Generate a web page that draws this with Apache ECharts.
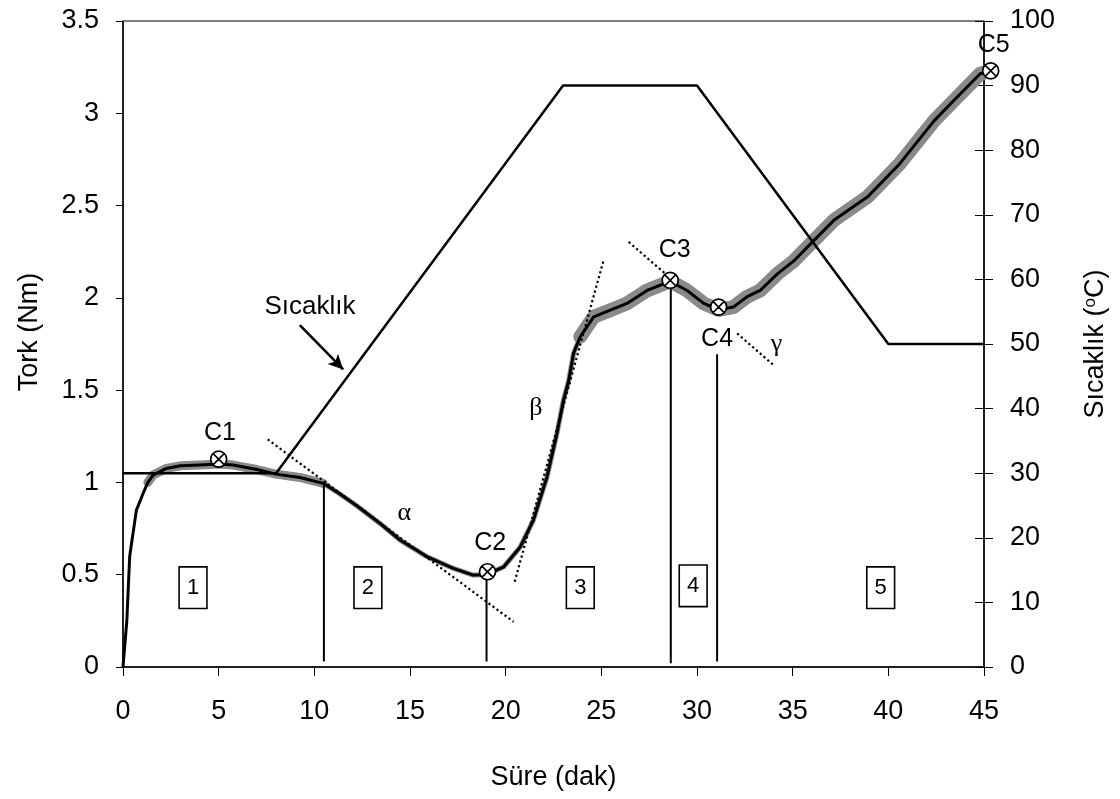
<!DOCTYPE html>
<html><head><meta charset="utf-8">
<script src="https://cdn.jsdelivr.net/npm/echarts@6/dist/echarts.min.js"></script>
<style>html,body{margin:0;padding:0;background:#fff}#c{width:1120px;height:799px}</style>
</head><body><div id="c"></div>
<script>
// ---------- data ----------
const xTicks = [0, 5, 10, 15, 20, 25, 30, 35, 40, 45];
const torqueTicks = [0, 0.5, 1, 1.5, 2, 2.5, 3, 3.5];
const tempTicks = [0, 10, 20, 30, 40, 50, 60, 70, 80, 90, 100];

const torqueTime = [0, 0.2, 0.35, 0.7, 1.05, 1.3, 1.57, 2.27, 3, 4, 5, 5.75, 7, 8, 9.25, 10.47, 11.3, 12.2, 13.43, 14.48, 15.9, 17.27, 18.3, 19, 19.9, 20.76, 21.45, 22.16, 22.68, 23.02, 23.29, 23.55, 23.9, 24.6, 25.47, 26.34, 27.39, 28.6, 29.48, 30.35, 31.13, 31.9, 32.6, 33.3, 34.2, 35.06, 36.1, 37.15, 38.9, 40.6, 42.4, 43.6, 44.8, 45.3];
const torqueValue = [0, 0.25, 0.6, 0.85, 0.94, 1.0, 1.04, 1.076, 1.09, 1.094, 1.1, 1.094, 1.07, 1.045, 1.027, 0.995, 0.94, 0.875, 0.778, 0.688, 0.597, 0.534, 0.498, 0.5, 0.543, 0.65, 0.796, 1.03, 1.265, 1.445, 1.55, 1.70, 1.79, 1.897, 1.933, 1.97, 2.04, 2.09, 2.04, 1.97, 1.935, 1.95, 2.005, 2.04, 2.13, 2.20, 2.31, 2.42, 2.546, 2.727, 2.96, 3.088, 3.214, 3.23];

const tempTime = [0, 8, 23, 30, 40, 45];
const tempValue = [30, 30, 90, 90, 50, 50];

const pointNames = ['C1', 'C2', 'C3', 'C4', 'C5'];
const pointTime = [5.0, 19.05, 28.6, 31.13, 45.35];
const pointValue = [1.126, 0.516, 2.095, 1.95, 3.23];
const pointLabelTime = [5.07, 19.19, 28.83, 31.05, 45.51];
const pointLabelValue = [1.267, 0.67, 2.258, 1.774, 3.368];

const regionNames = ['1', '2', '3', '4', '5'];
const regionTime = [3.66, 12.8, 23.9, 29.8, 39.6];
const regionValue = [0.43, 0.43, 0.43, 0.44, 0.43];

const dividerTime = [10.5, 19.0, 28.63, 31.05];
const dividerTop = [0.995, 0.5, 2.095, 1.695];
const dividerBottom = [0.03, 0.03, 0.02, 0.03];

const tangentStartTime = [7.56, 20.47, 26.43, 32.1];
const tangentStartValue = [1.233, 0.462, 2.303, 1.807];
const tangentEndTime = [20.41, 25.12, 28.35, 34.01];
const tangentEndValue = [0.245, 2.204, 2.13, 1.635];

const greekNames = ['α', 'β', 'γ'];
const greekTime = [14.7, 21.58, 34.15];
const greekValue = [0.835, 1.40, 1.75];

const tempLabel = 'Sıcaklık';
const tempLabelPos = [9.77, 1.95];
const arrowStart = [9.24, 1.852];
const arrowEnd = [11.51, 1.612];

// ---------- styles ----------
const FONT = 'Liberation Sans, Arial, sans-serif';
const bandSegments = [
  { from: 1.3, to: 10.47, width: 9 },
  { from: 10.47, to: 23.9, width: 5 },
  { from: 23.9, to: 45.3, width: 14 }
];

const pairs = (xs, ys) => xs.map((x, i) => [x, ys[i]]);
const series = [];

bandSegments.forEach(seg => {
  const d = [];
  torqueTime.forEach((t, i) => { if (t >= seg.from && t <= seg.to) d.push([t, torqueValue[i]]); });
  series.push({
    type: 'line', xAxisIndex: 0, yAxisIndex: 0, data: d, symbol: 'none', z: 1, silent: true,
    lineStyle: { color: '#8a8a8a', width: seg.width, join: 'round', cap: 'round' }
  });
});

series.push({
  type: 'line', yAxisIndex: 0, data: pairs(torqueTime, torqueValue), symbol: 'none', z: 3,
  lineStyle: { color: '#000', width: 3, join: 'round' },
  markLine: {
    silent: true, symbol: ['none', 'arrow'], symbolSize: [11, 15],
    lineStyle: { color: '#000', width: 2.5, type: 'solid' }, label: { show: false },
    data: [[{ coord: arrowStart }, { coord: arrowEnd }]]
  }
});

series.push({
  type: 'line', yAxisIndex: 1, data: pairs(tempTime, tempValue), symbol: 'none', z: 3,
  lineStyle: { color: '#000', width: 2.5 }
});

dividerTime.forEach((t, i) => {
  series.push({
    type: 'line', yAxisIndex: 0, data: [[t, dividerBottom[i]], [t, dividerTop[i]]], symbol: 'none', z: 4,
    lineStyle: { color: '#000', width: 2 }
  });
});

tangentStartTime.forEach((t, i) => {
  series.push({
    type: 'line', yAxisIndex: 0, data: [[t, tangentStartValue[i]], [tangentEndTime[i], tangentEndValue[i]]], symbol: 'none', z: 4,
    lineStyle: { color: '#000', width: 2.2, type: [2.2, 2.8] }
  });
});

series.push({
  type: 'scatter', yAxisIndex: 0, clip: false, z: 6,
  data: pairs(pointTime, pointValue),
  symbol: 'path://M0,-10A10,10,0,1,1,0,10A10,10,0,1,1,0,-10ZM-7.07,-7.07L7.07,7.07M7.07,-7.07L-7.07,7.07',
  symbolSize: 16,
  itemStyle: { color: '#fff', borderColor: '#000', borderWidth: 1.7, opacity: 1 }
});

const labelSeries = (data, label) => ({
  type: 'scatter', yAxisIndex: 0, clip: false, z: 7, symbolSize: 0,
  itemStyle: { opacity: 1 },
  data: data,
  label: Object.assign({ show: true, position: 'inside', formatter: p => p.name, color: '#000', opacity: 1 }, label)
});

series.push(labelSeries(
  pointNames.map((n, i) => ({ value: [pointLabelTime[i], pointLabelValue[i]], name: n })),
  { fontSize: 25, fontFamily: FONT }
));

series.push(labelSeries(
  regionNames.map((n, i) => ({ value: [regionTime[i], regionValue[i]], name: n })),
  { fontSize: 22, fontFamily: FONT, lineHeight: 24, backgroundColor: '#fff', borderColor: '#000', borderWidth: 1.6, padding: [8, 7, 8, 7] }
));

series.push(labelSeries(
  greekNames.map((n, i) => ({ value: [greekTime[i], greekValue[i]], name: n })),
  { fontSize: 26, fontFamily: 'Liberation Serif, DejaVu Serif, serif' }
));

series.push(labelSeries(
  [{ value: tempLabelPos, name: tempLabel }],
  { fontSize: 26, fontFamily: FONT }
));

const axisText = { color: '#000', fontSize: 27, fontFamily: FONT };

const option = {
  animation: false,
  backgroundColor: '#fff',
  grid: { left: 123, right: 136, top: 21, bottom: 132, show: true, borderColor: '#000', borderWidth: 1 },
  xAxis: {
    type: 'value', min: xTicks[0], max: xTicks[xTicks.length - 1], interval: xTicks[1] - xTicks[0],
    name: 'Süre (dak)', nameLocation: 'middle', nameGap: 97, nameTextStyle: axisText,
    axisLine: { show: true, lineStyle: { color: '#000', width: 1.5 } },
    axisTick: { show: true, inside: false, length: 9, lineStyle: { color: '#000', width: 1 } },
    axisLabel: Object.assign({ margin: 31 }, axisText),
    splitLine: { show: false }
  },
  yAxis: [
    {
      type: 'value', position: 'left', min: torqueTicks[0], max: torqueTicks[torqueTicks.length - 1], interval: torqueTicks[1] - torqueTicks[0],
      name: 'Tork (Nm)', nameLocation: 'middle', nameGap: 80, nameTextStyle: Object.assign({ padding: [0, 0, 0, 24] }, axisText),
      axisLine: { show: true, lineStyle: { color: '#000', width: 1.5 } },
      axisTick: { show: true, inside: false, length: 7, lineStyle: { color: '#000', width: 1 } },
      axisLabel: Object.assign({ margin: 24 }, axisText),
      splitLine: { show: false }
    },
    {
      type: 'value', position: 'right', min: tempTicks[0], max: tempTicks[tempTicks.length - 1], interval: tempTicks[1] - tempTicks[0],
      name: 'Sıcaklık ({s|o}C)', nameLocation: 'middle', nameGap: 98,
      nameTextStyle: Object.assign({ rich: { s: { fontSize: 17, fontFamily: FONT, color: '#000', verticalAlign: 'top', padding: [0, 0, 10, 0] } } }, axisText),
      axisLine: { show: true, lineStyle: { color: '#000', width: 1.5 } },
      axisTick: { show: true, inside: false, length: 9, lineStyle: { color: '#000', width: 1 } },
      axisLabel: Object.assign({ margin: 26 }, axisText),
      splitLine: { show: false }
    },
    {
      type: 'value', position: 'right', min: tempTicks[0], max: tempTicks[tempTicks.length - 1], interval: tempTicks[1] - tempTicks[0],
      axisLine: { show: false }, axisLabel: { show: false },
      axisTick: { show: true, inside: true, length: 9, lineStyle: { color: '#000', width: 1 } },
      splitLine: { show: false }
    }
  ],
  series: series
};

const chart = echarts.init(document.getElementById('c'), null, { renderer: 'canvas' });
chart.setOption(option);
</script>
</body></html>
